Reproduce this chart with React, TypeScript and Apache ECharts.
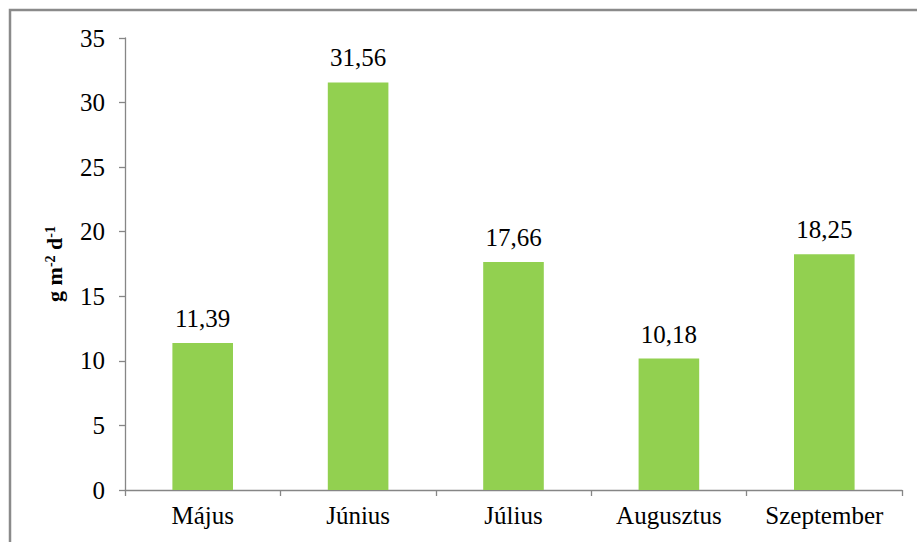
import React, { useEffect, useRef } from "react";
import * as echarts from "echarts";

const categories = ["Május", "Június", "Július", "Augusztus", "Szeptember"];
const values = [11.39, 31.56, 17.66, 10.18, 18.25];
const yTicks = { min: 0, max: 35, interval: 5 };

export default function App() {
  const ref = useRef<HTMLDivElement>(null);
  useEffect(() => {
    if (!ref.current) return;
    const chart = echarts.init(ref.current, null, { renderer: "svg" });
    const font = "Liberation Serif";
    const t = { fontFamily: font, fontSize: 25, color: "#000" };
    chart.setOption({
      animation: false,
      backgroundColor: "#ffffff",
      textStyle: { fontFamily: font },
      graphic: [
        {
          type: "rect",
          shape: { x: 10, y: 10, width: 1000, height: 600 },
          style: { fill: "none", stroke: "#8a8a8a", lineWidth: 2.5 },
          silent: true,
        },
      ],
      grid: { left: 125, right: 15, top: 38, bottom: 52 },
      xAxis: {
        type: "category",
        data: categories,
        axisLine: { lineStyle: { color: "#868686", width: 1.3 } },
        axisTick: { show: true, length: 6, alignWithLabel: false, lineStyle: { color: "#868686", width: 1.3 } },
        axisLabel: {
          fontFamily: font,
          margin: 13,
          formatter: (v: string) => `{t|${v}}`,
          rich: { t },
        },
      },
      yAxis: {
        type: "value",
        min: yTicks.min,
        max: yTicks.max,
        interval: yTicks.interval,
        name: "{b|g m}{s|-2}{b| d}{s|-1}",
        nameLocation: "middle",
        nameRotate: 90,
        nameGap: 60,
        nameTextStyle: {
          fontFamily: font,
          rich: {
            b: { fontFamily: font, fontSize: 22, fontWeight: "bold", color: "#000", verticalAlign: "bottom" },
            s: { fontFamily: font, fontSize: 14, fontWeight: "bold", color: "#000", verticalAlign: "top" },
          },
        },
        splitLine: { show: false },
        axisLine: { show: true, lineStyle: { color: "#868686", width: 1.3 } },
        axisTick: { show: true, length: 6, lineStyle: { color: "#868686", width: 1.3 } },
        axisLabel: {
          fontFamily: font,
          margin: 20,
          formatter: (v: number) => `{t|${v}}`,
          rich: { t },
        },
      },
      series: [
        {
          type: "bar",
          data: values,
          barWidth: "39%",
          itemStyle: { color: "#92D050" },
          label: {
            show: true,
            position: "top",
            distance: 12,
            fontFamily: font,
            formatter: (p: any) => `{t|${p.value.toFixed(2).replace(".", ",")}}`,
            rich: { t },
          },
        },
      ],
    });
    return () => chart.dispose();
  }, []);
  return (
    <div
      ref={ref}
      style={{ position: "fixed", left: 0, top: 0, width: 917, height: 542 }}
    />
  );
}
